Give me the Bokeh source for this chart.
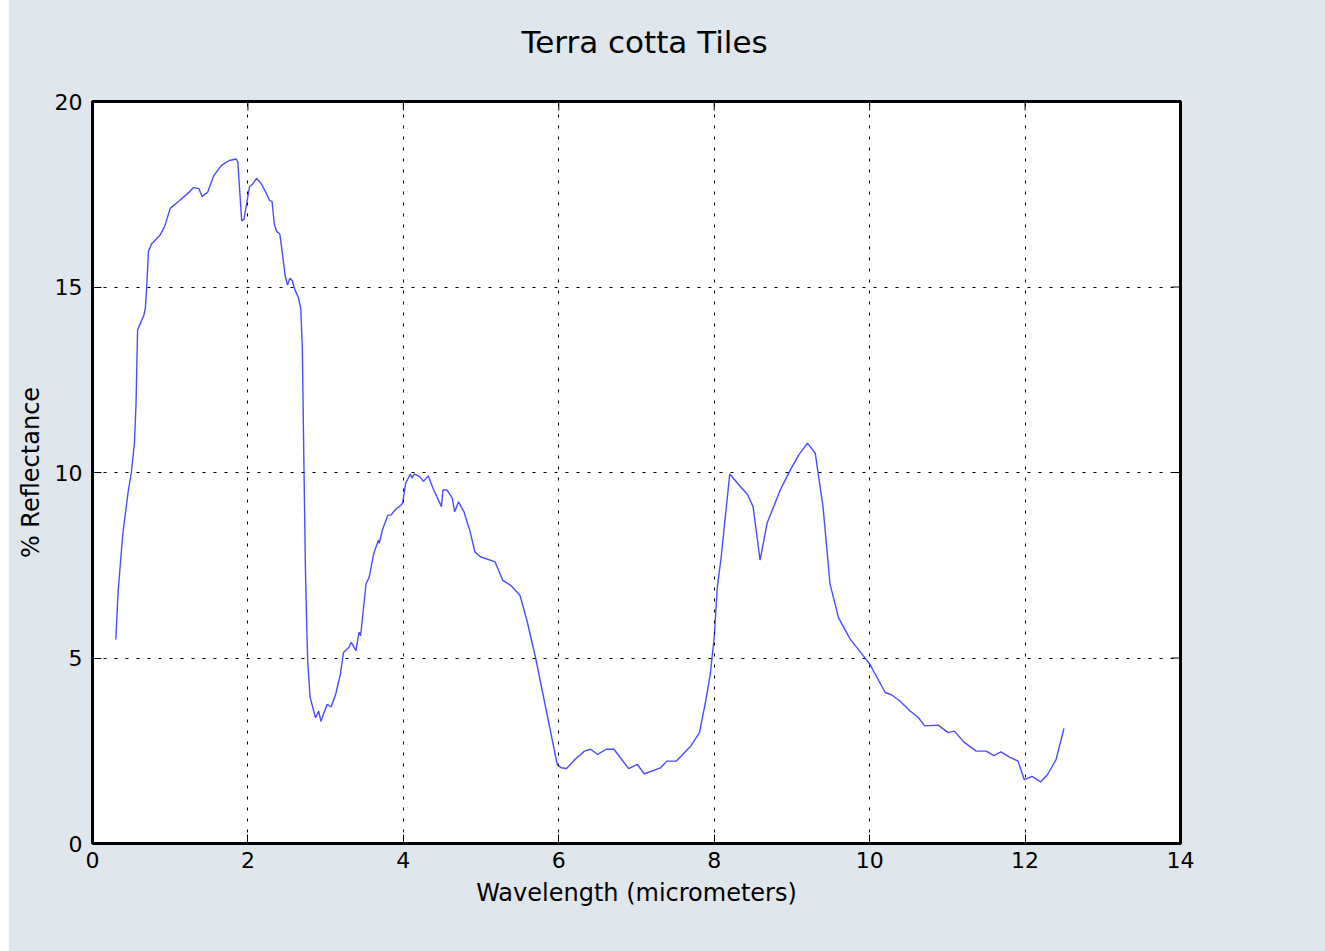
from bokeh.plotting import figure
from bokeh.models import Range1d, FixedTicker, Title
from bokeh.embed import file_html
from bokeh.resources import INLINE

wavelength = [0.30, 0.33, 0.39, 0.46, 0.50, 0.54, 0.56, 0.58, 0.62, 0.66, 0.68, 0.70, 0.72, 0.76,
              0.87, 0.93, 1.00, 1.11, 1.24, 1.30, 1.37, 1.41, 1.48, 1.56, 1.66, 1.76, 1.85, 1.87,
              1.92, 1.95, 2.02, 2.06, 2.11, 2.17, 2.23, 2.28, 2.31, 2.34, 2.37, 2.41, 2.44, 2.48,
              2.51, 2.54, 2.57, 2.60, 2.65, 2.68, 2.70, 2.72, 2.74, 2.76, 2.77, 2.80, 2.87, 2.91,
              2.94, 2.97, 3.02, 3.07, 3.13, 3.19, 3.23, 3.30, 3.33, 3.39, 3.43, 3.45, 3.52, 3.56,
              3.62, 3.68, 3.69, 3.73, 3.80, 3.84, 3.91, 3.95, 3.99, 4.03, 4.09, 4.11, 4.14, 4.21,
              4.26, 4.32, 4.38, 4.49, 4.51, 4.56, 4.63, 4.66, 4.71, 4.78, 4.86, 4.92, 4.99, 5.18,
              5.28, 5.38, 5.50, 5.59, 5.70, 5.98, 6.03, 6.10, 6.21, 6.33, 6.41, 6.50, 6.61, 6.71,
              6.80, 6.90, 7.01, 7.10, 7.31, 7.39, 7.51, 7.70, 7.81, 7.89, 7.95, 8.00, 8.04, 8.09,
              8.13, 8.20, 8.30, 8.43, 8.50, 8.59, 8.68, 8.85, 8.98, 9.09, 9.20, 9.30, 9.40, 9.49,
              9.60, 9.75, 10.00, 10.20, 10.28, 10.39, 10.52, 10.62, 10.71, 10.88, 11.01, 11.09,
              11.21, 11.37, 11.50, 11.60, 11.69, 11.80, 11.91, 11.99, 12.09, 12.20, 12.29, 12.40,
              12.50]
reflectance = [5.50, 6.80, 8.35, 9.50, 10.00, 10.80, 11.85, 13.84, 14.04, 14.23, 14.42, 15.10, 15.96, 16.16,
               16.40, 16.64, 17.12, 17.31, 17.55, 17.68, 17.65, 17.44, 17.55, 18.00, 18.28, 18.41, 18.45, 18.37,
               16.78, 16.83, 17.70, 17.77, 17.93, 17.79, 17.55, 17.33, 17.31, 16.69, 16.50, 16.43, 15.96, 15.29,
               15.05, 15.24, 15.17, 14.95, 14.71, 14.42, 13.36, 10.28, 7.39, 5.60, 4.88, 3.94, 3.39, 3.57,
               3.29, 3.48, 3.75, 3.68, 4.03, 4.57, 5.15, 5.29, 5.42, 5.20, 5.70, 5.60, 7.00, 7.18,
               7.82, 8.18, 8.09, 8.45, 8.85, 8.85, 9.03, 9.08, 9.17, 9.71, 9.96, 9.85, 9.96, 9.89,
               9.76, 9.91, 9.58, 9.08, 9.53, 9.53, 9.31, 8.94, 9.21, 8.94, 8.40, 7.86, 7.73, 7.59,
               7.09, 6.96, 6.69, 6.01, 5.02, 2.13, 2.04, 2.02, 2.27, 2.49, 2.54, 2.40, 2.54, 2.54,
               2.29, 2.02, 2.13, 1.88, 2.04, 2.22, 2.22, 2.63, 2.99, 3.84, 4.57, 5.56, 6.91, 7.73,
               8.54, 9.96, 9.71, 9.40, 9.08, 7.64, 8.63, 9.53, 10.07, 10.48, 10.79, 10.52, 9.08, 7.00,
               6.08, 5.51, 4.84, 4.07, 4.01, 3.84, 3.57, 3.41, 3.17, 3.19, 2.99, 3.03,
               2.74, 2.49, 2.49, 2.37, 2.47, 2.33, 2.22, 1.72, 1.81, 1.66, 1.86, 2.27,
               3.10]

x_ticks = [0, 2, 4, 6, 8, 10, 12, 14]
y_ticks = [0, 5, 10, 15, 20]
title_text = "Terra cotta Tiles"

FONT = "DejaVu Sans"
BG = "#dfe6ec"
X_MIN, X_MAX = 0, 14
Y_MIN, Y_MAX = 0, 20
TICK_PX = 9

TITLE_STANDOFF = 83
TITLE_BOX = 2 + 36 + TITLE_STANDOFF      # space the title panel takes above the frame
W, H = 1317, 971
BL, BR, BB = 84, 145, 108

p = figure(width=W, height=H, output_backend="svg", toolbar_location=None, title=None,
           x_range=Range1d(X_MIN, X_MAX), y_range=Range1d(Y_MIN, Y_MAX),
           x_axis_label="Wavelength (micrometers)", y_axis_label="% Reflectance",
           min_border_left=BL, min_border_right=BR, min_border_top=TITLE_BOX, min_border_bottom=BB)
p.margin = (-20, 0, 0, 8)

p.background_fill_color = "white"
p.border_fill_color = BG
p.outline_line_color = "black"
p.outline_line_width = 3

p.xaxis.ticker = FixedTicker(ticks=x_ticks)
p.yaxis.ticker = FixedTicker(ticks=y_ticks)

for ax in p.xaxis + p.yaxis:
    ax.axis_line_color = None
    ax.major_tick_in = TICK_PX
    ax.major_tick_out = 0
    ax.major_tick_line_color = "black"
    ax.major_tick_line_width = 1
    ax.minor_tick_line_color = None
    ax.major_label_text_font = FONT
    ax.major_label_text_font_size = "22px"
    ax.major_label_text_color = "black"
    ax.axis_label_text_font = FONT
    ax.axis_label_text_font_size = "24px"
    ax.axis_label_text_font_style = "normal"
    ax.axis_label_text_color = "black"

p.xaxis.major_label_standoff = 8
p.xaxis.axis_label_standoff = 8
p.yaxis.major_label_standoff = 10
p.yaxis.axis_label_standoff = 7

p.add_layout(Title(text=title_text, align="left", offset=429, standoff=TITLE_STANDOFF,
                   text_font=FONT, text_font_size="31px", text_font_style="normal",
                   text_color="black"), "above")

p.xgrid.grid_line_color = "black"
p.ygrid.grid_line_color = "black"
p.xgrid.grid_line_dash = "3 8"
p.ygrid.grid_line_dash = "3 8"
p.xgrid.grid_line_width = 1
p.ygrid.grid_line_width = 1

frame_w = W - BL - BR
frame_h = H - TITLE_BOX - BB

# inward ticks on the top and right edges (matplotlib style)
dy = TICK_PX * (Y_MAX - Y_MIN) / frame_h
dx = TICK_PX * (X_MAX - X_MIN) / frame_w
p.segment(x0=x_ticks, y0=[Y_MAX] * len(x_ticks), x1=x_ticks, y1=[Y_MAX - dy] * len(x_ticks),
          line_color="black", line_width=1)
p.segment(x0=[X_MAX] * len(y_ticks), y0=y_ticks, x1=[X_MAX - dx] * len(y_ticks), y1=y_ticks,
          line_color="black", line_width=1)

p.line(wavelength, reflectance, line_color="#0000ff", line_width=1.4, line_alpha=0.7)

open("out.html", "w").write(file_html(p, INLINE))
